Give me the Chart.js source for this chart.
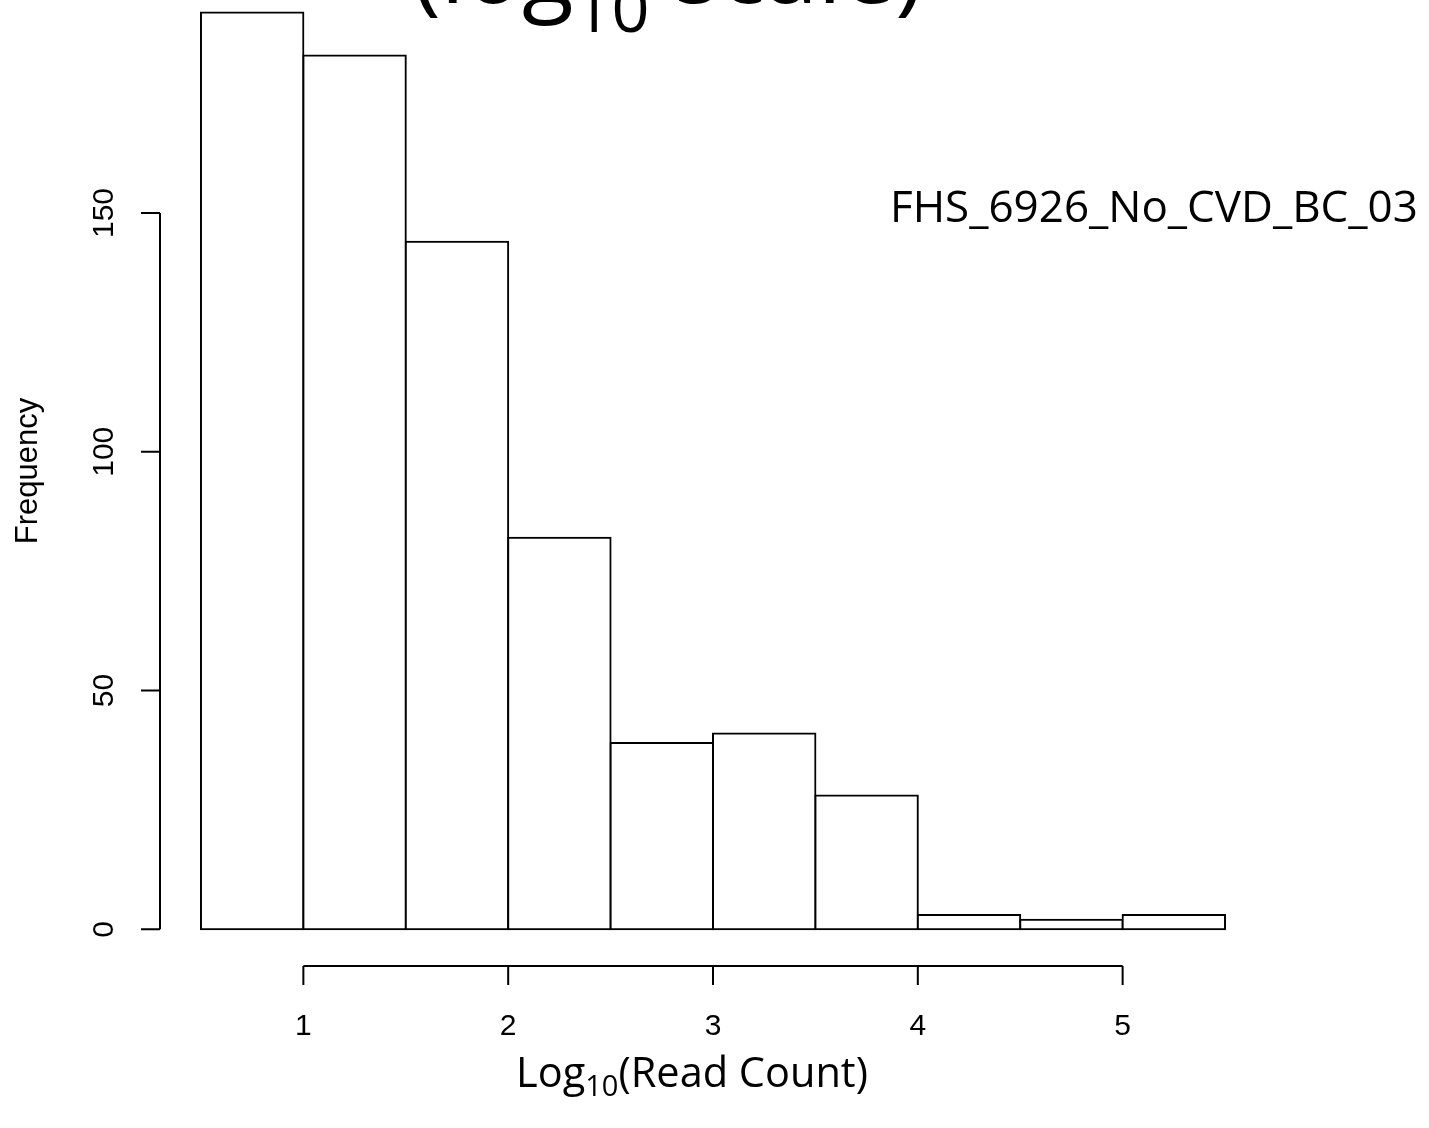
<!DOCTYPE html>
<html>
<head>
<meta charset="utf-8">
<script src="https://cdn.jsdelivr.net/npm/chart.js@4"></script>
<style>
  html, body { margin: 0; padding: 0; background: #fff; overflow: hidden; }
  canvas { display: block; }
</style>
</head>
<body>
<canvas id="hist" width="1429" height="1128"></canvas>
<script>
// histogram bins (log10 read count) and frequencies
const binEdges = [0.5, 1, 1.5, 2, 2.5, 3, 3.5, 4, 4.5, 5, 5.5];
const counts = [192, 183, 144, 82, 39, 41, 28, 3, 2, 3];
const xTicks = [1, 2, 3, 4, 5];
const yTicks = [0, 50, 100, 150];
const sampleName = "FHS_6926_No_CVD_BC_03";

const sans = "'Liberation Sans', Arial, sans-serif";
const calib = "'Open Sans', sans-serif";

// bars sit at the middle of each bin
const points = counts.map((c, i) => ({ x: (binEdges[i] + binEdges[i + 1]) / 2, y: c }));

// draw text with a subscript part, e.g. Log10
const drawRich = (ctx, parts, cx, y, size, drop) => {
  const widths = parts.map(p => {
    ctx.font = `${p.sub ? size * 0.7 : size}px ${calib}`;
    return ctx.measureText(p.t).width;
  });
  let x = cx - widths.reduce((a, b) => a + b, 0) / 2;
  ctx.textAlign = "left";
  ctx.textBaseline = "alphabetic";
  parts.forEach((p, i) => {
    ctx.font = `${p.sub ? size * 0.7 : size}px ${calib}`;
    ctx.fillText(p.t, x, p.sub ? y + size * drop : y);
    x += widths[i];
  });
};

// R style axes, title and labels
const baseGraphics = {
  id: "baseGraphics",
  beforeDraw(chart) {
    const ctx = chart.ctx;
    ctx.save();
    ctx.fillStyle = "#fff";
    ctx.fillRect(0, 0, chart.width, chart.height);
    ctx.restore();
  },
  afterDraw(chart) {
    const ctx = chart.ctx;
    const xs = chart.scales.x;
    const ys = chart.scales.y;
    const area = chart.chartArea;
    ctx.save();
    ctx.strokeStyle = "#000";
    ctx.fillStyle = "#000";
    ctx.lineWidth = 2;

    // x axis
    const axY = area.bottom;
    const x0 = xs.getPixelForValue(xTicks[0]);
    const x1 = xs.getPixelForValue(xTicks[xTicks.length - 1]);
    ctx.beginPath();
    ctx.moveTo(x0, axY);
    ctx.lineTo(x1, axY);
    xTicks.forEach(t => {
      const px = xs.getPixelForValue(t);
      ctx.moveTo(px, axY);
      ctx.lineTo(px, axY + 19);
    });
    ctx.stroke();
    ctx.font = `30px ${sans}`;
    ctx.textAlign = "center";
    ctx.textBaseline = "alphabetic";
    xTicks.forEach(t => ctx.fillText(String(t), xs.getPixelForValue(t), 1035));

    // y axis
    const axX = area.left;
    const y0 = ys.getPixelForValue(yTicks[0]);
    const y1 = ys.getPixelForValue(yTicks[yTicks.length - 1]);
    ctx.beginPath();
    ctx.moveTo(axX, y0);
    ctx.lineTo(axX, y1);
    yTicks.forEach(t => {
      const py = ys.getPixelForValue(t);
      ctx.moveTo(axX, py);
      ctx.lineTo(axX - 19, py);
    });
    ctx.stroke();
    yTicks.forEach(t => {
      ctx.save();
      ctx.translate(113, ys.getPixelForValue(t));
      ctx.rotate(-Math.PI / 2);
      ctx.textAlign = "center";
      ctx.fillText(String(t), 0, 0);
      ctx.restore();
    });

    // y label
    ctx.save();
    ctx.translate(37, (area.top + area.bottom) / 2 - 12);
    ctx.rotate(-Math.PI / 2);
    ctx.font = `31px ${sans}`;
    ctx.textAlign = "center";
    ctx.fillText("Frequency", 0, 0);
    ctx.restore();

    // x label
    drawRich(ctx, [{ t: "Log" }, { t: "10", sub: true }, { t: "(Read Count)" }], 692, 1087, 41.5, 0.22);

    // title, mostly above the page
    drawRich(ctx, [{ t: "(log" }, { t: "10", sub: true }, { t: " scale)" }], 668, 3, 95, 0.31);

    // sample name
    ctx.font = `42px ${calib}`;
    ctx.textAlign = "left";
    const w = ctx.measureText(sampleName).width;
    ctx.font = `${42 * 528 / w}px ${calib}`;
    ctx.fillText(sampleName, 890, 222);

    ctx.restore();
  }
};

new Chart(document.getElementById("hist"), {
  type: "bar",
  data: {
    datasets: [{
      data: points,
      backgroundColor: "#fff",
      borderColor: "#000",
      borderWidth: 2,
      borderSkipped: false,
      inflateAmount: 1,
      barPercentage: 1,
      categoryPercentage: 1
    }]
  },
  options: {
    responsive: false,
    animation: false,
    devicePixelRatio: 1,
    layout: { padding: { left: 160, right: 163, top: 0, bottom: 162 } },
    plugins: { legend: { display: false }, tooltip: { enabled: false }, title: { display: false } },
    scales: {
      x: { type: "linear", min: 0.3, max: 5.7, offset: false, display: false },
      y: { min: -7.68, max: 194.6, display: false }
    }
  },
  plugins: [baseGraphics]
});
</script>
</body>
</html>
